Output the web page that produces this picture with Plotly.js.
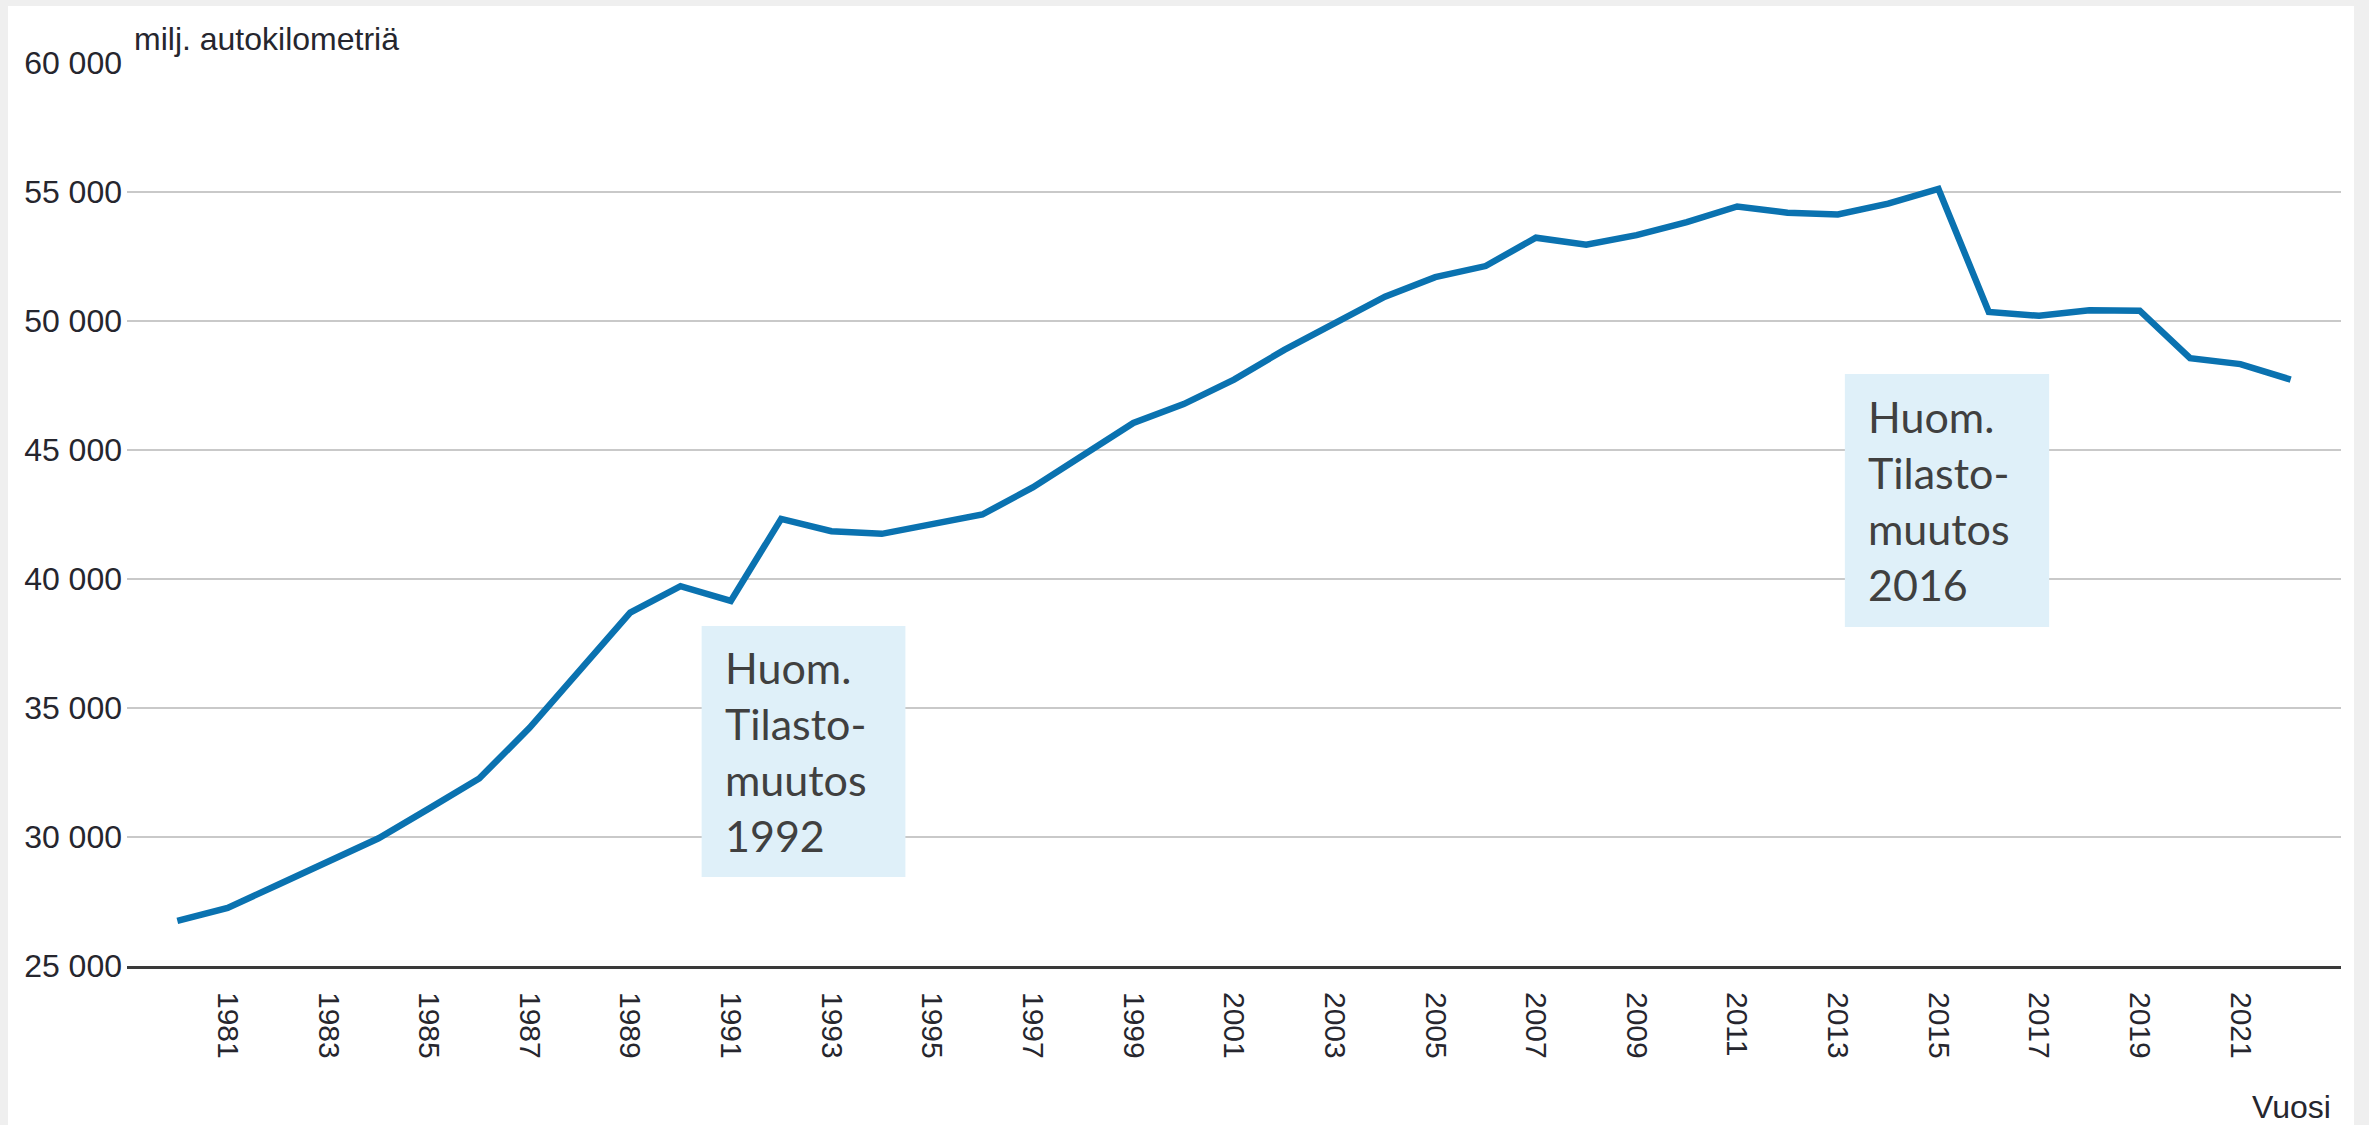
<!DOCTYPE html>
<html>
<head>
<meta charset="utf-8">
<script src="https://cdn.plot.ly/plotly-3.0.1.min.js"></script>
<style>
  html, body { margin: 0; padding: 0; background: #efefef; width: 2369px; height: 1125px; overflow: hidden; }
  #chart { position: absolute; left: 8px; top: 6px; width: 2346px; height: 1119px; background: #ffffff; }
</style>
</head>
<body>
<div id="chart"></div>
<script>
// Data: million vehicle-kilometres per year
const years = [1980,1981,1982,1983,1984,1985,1986,1987,1988,1989,
               1990,1991,1992,1993,1994,1995,1996,1997,1998,1999,
               2000,2001,2002,2003,2004,2005,2006,2007,2008,2009,
               2010,2011,2012,2013,2014,2015,2016,2017,2018,2019,
               2020,2021,2022];
const kilometres = [26750,27250,28150,29050,29950,31100,32270,34230,36470,38700,
                    39720,39150,42330,41850,41750,42150,42500,43550,44800,46050,
                    46780,47730,48880,49910,50940,51700,52130,53230,52960,53330,
                    53830,54440,54200,54130,54550,55120,50350,50200,50420,50400,
                    48560,48330,47730];
const xTickVals = [1981,1983,1985,1987,1989,1991,1993,1995,1997,1999,
                   2001,2003,2005,2007,2009,2011,2013,2015,2017,2019,2021];
const xTickText = xTickVals.map(String);
const yTickVals = [25000,30000,35000,40000,45000,50000,55000,60000];
const yAxisLabel = "milj. autokilometriä";
const xAxisLabel = "Vuosi";
const noteTexts = ["Huom.<br>Tilasto-<br>muutos<br>1992", "Huom.<br>Tilasto-<br>muutos<br>2016"];

const trace = {
  x: years,
  y: kilometres,
  type: 'scatter',
  mode: 'lines',
  line: { color: '#0a72b0', width: 6.5 },
  hoverinfo: 'x+y'
};

const axisFont = { family: '"Liberation Sans", Arial, sans-serif', size: 31, color: '#26262e' };
const noteFont = { family: 'Lato, "Open Sans", sans-serif', size: 43, color: '#404040' };
const boxColor = '#dff0f9';

const layout = {
  width: 2346,
  height: 1119,
  margin: { l: 119, r: 13, t: 57, b: 159 },
  paper_bgcolor: '#ffffff',
  plot_bgcolor: '#ffffff',
  separators: ', ',
  showlegend: false,
  xaxis: {
    range: [1979, 2023],
    tickmode: 'array',
    tickvals: xTickVals,
    ticktext: xTickText,
    tickangle: 90,
    tickfont: { family: axisFont.family, size: 30, color: axisFont.color },
    ticks: '',
    ticklabelstandoff: 17,
    showgrid: false,
    zeroline: false,
    showline: true,
    linecolor: '#3a3a3a',
    linewidth: 3,
    fixedrange: true
  },
  yaxis: {
    range: [25000, 60000],
    tickmode: 'array',
    tickvals: yTickVals,
    tickformat: ',d',
    tickfont: { family: axisFont.family, size: 32, color: axisFont.color },
    ticks: '',
    ticklabelstandoff: 4,
    showgrid: true,
    gridcolor: '#c9c9c9',
    gridwidth: 2,
    zeroline: false,
    showline: false,
    fixedrange: true
  },
  shapes: [
    { type: 'rect', xref: 'x', yref: 'y', x0: 1990.42, x1: 1994.47, y0: 28450, y1: 38180,
      fillcolor: boxColor, line: { width: 0 }, layer: 'above' },
    { type: 'rect', xref: 'x', yref: 'y', x0: 2013.14, x1: 2017.20, y0: 38140, y1: 47950,
      fillcolor: boxColor, line: { width: 0 }, layer: 'above' }
  ],
  annotations: [
    { text: yAxisLabel, xref: 'paper', yref: 'paper', x: 0.0023, y: 1, xanchor: 'left', yanchor: 'bottom',
      yshift: 4, showarrow: false, font: { family: axisFont.family, size: 32, color: axisFont.color } },
    { text: xAxisLabel, xref: 'paper', yref: 'paper', x: 0.9964, y: 0, xanchor: 'right', yanchor: 'top',
      yshift: -121, showarrow: false, font: { family: axisFont.family, size: 32, color: axisFont.color } },
    { text: noteTexts[0], xref: 'x', yref: 'y', x: 1990.84, y: 33315, xanchor: 'left', yanchor: 'middle',
      align: 'left', showarrow: false, font: noteFont },
    { text: noteTexts[1], xref: 'x', yref: 'y', x: 2013.56, y: 43045, xanchor: 'left', yanchor: 'middle',
      align: 'left', showarrow: false, font: noteFont }
  ]
};

Plotly.newPlot('chart', [trace], layout, { displayModeBar: false, staticPlot: true });
</script>
</body>
</html>
